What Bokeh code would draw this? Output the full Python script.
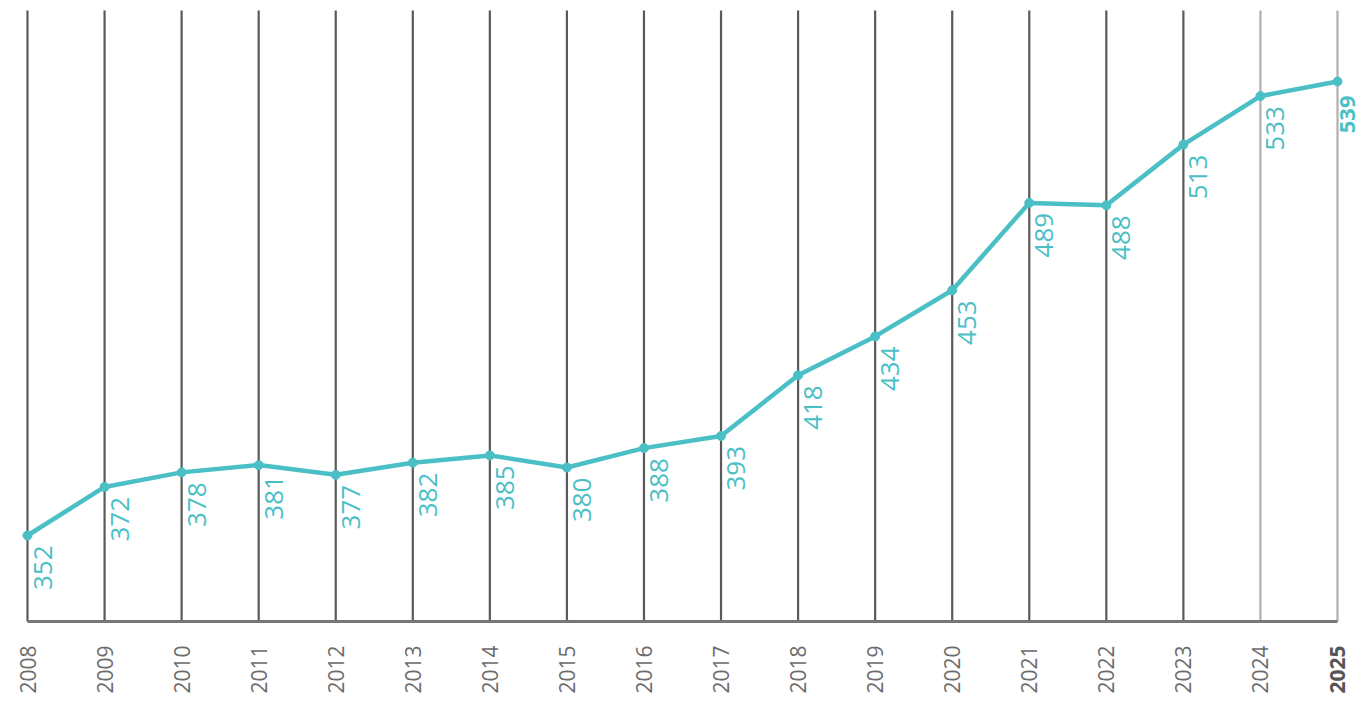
import math
from bokeh.plotting import figure
from bokeh.models import ColumnDataSource, Range1d
from bokeh.core.properties import value
from bokeh.embed import file_html
from bokeh.resources import INLINE

years = list(range(2008, 2026))
values = [352, 372, 378, 381, 377, 382, 385, 380, 388, 393, 418, 434, 453, 489, 488, 513, 533, 539]
year_labels = [str(y) for y in years]

TEAL = "#4BBFC6"
BASE_V = 316.6
TOP_V = 568.2

p = figure(width=1363, height=701, output_backend="svg", toolbar_location=None,
           x_range=Range1d(2007.6496, 2025.3374), y_range=Range1d(283.63, 572.36),
           min_border=0, min_border_left=0, min_border_right=0, min_border_top=0, min_border_bottom=0)
p.axis.visible = False
p.grid.visible = False
p.outline_line_color = None
p.background_fill_color = "white"
p.border_fill_color = "white"

# vertical year lines
dark = [y for y in years if y < 2024]
light = [y for y in years if y >= 2024]
p.segment(x0=dark, x1=dark, y0=[BASE_V] * len(dark), y1=[TOP_V] * len(dark),
          line_color="#5a5a5a", line_width=2.2)
p.segment(x0=light, x1=light, y0=[BASE_V] * len(light), y1=[TOP_V] * len(light),
          line_color="#b0b0b0", line_width=2.2)
# baseline
p.line(x=[years[0], years[-1]], y=[BASE_V, BASE_V], line_color="#777777", line_width=3)

# data line
p.line(x=years, y=values, line_color=TEAL, line_width=4.5)
p.scatter(x=years, y=values, size=9, fill_color=TEAL, line_color=TEAL)

# data labels
src = ColumnDataSource(dict(x=years[:-1], y=values[:-1], t=[str(v) for v in values[:-1]]))
p.text(x="x", y="y", text="t", source=src, angle=math.pi / 2, text_align="right",
       text_baseline="top", x_offset=6, y_offset=10, text_color=TEAL,
       text_font=value("Open Sans"), text_font_size="26px")
p.text(x=[years[-1]], y=[values[-1]], text=[str(values[-1])], angle=math.pi / 2,
       text_align="right", text_baseline="top", x_offset=2, y_offset=14, text_color=TEAL,
       text_font=value("Open Sans"), text_font_size="22px", text_font_style="bold",
       text_line_height=1.0)

# year labels
src2 = ColumnDataSource(dict(x=years[:-1], y=[BASE_V] * (len(years) - 1), t=year_labels[:-1]))
p.text(x="x", y="y", text="t", source=src2, angle=math.pi / 2, text_align="right",
       text_baseline="middle", y_offset=24, text_color="#6b6b6b",
       text_font=value("Open Sans"), text_font_size="21px")
p.text(x=[years[-1]], y=[BASE_V], text=[year_labels[-1]], angle=math.pi / 2,
       text_align="right", text_baseline="middle", y_offset=24, text_color="#555555",
       text_font=value("Open Sans"), text_font_size="21px", text_font_style="bold")

open("out.html", "w").write(file_html(p, INLINE))
